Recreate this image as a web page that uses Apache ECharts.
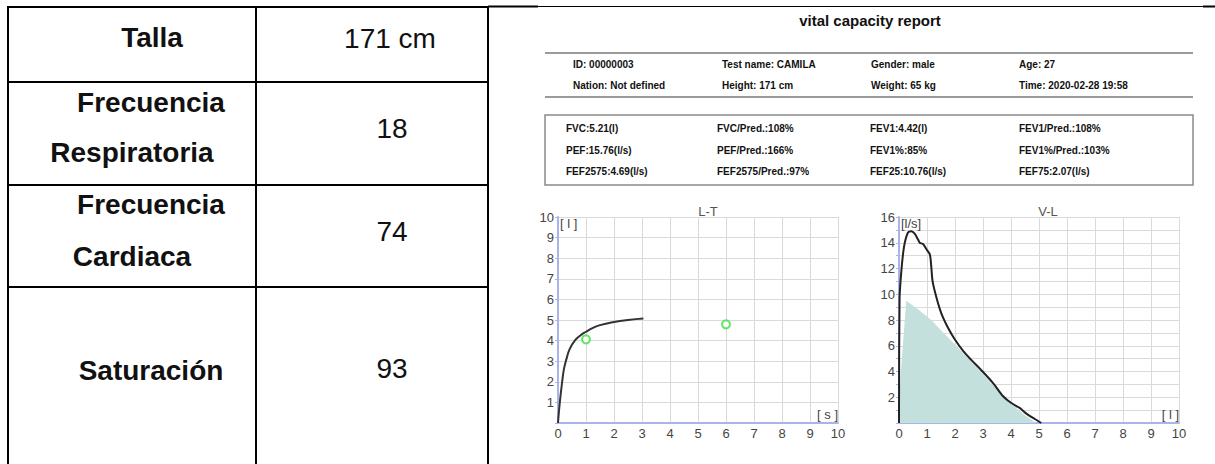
<!DOCTYPE html>
<html>
<head>
<meta charset="utf-8">
<title>vital capacity report</title>
<script src="https://cdn.jsdelivr.net/npm/echarts@6.0.0/dist/echarts.min.js"></script>
<style>
html, body { margin: 0; padding: 0; background: #fff; }
#main { width: 1215px; height: 464px; }
</style>
</head>
<body>
<div id="main"></div>
<script>
// table on the left
const rowLabels = [['Talla'], ['Frecuencia', 'Respiratoria'], ['Frecuencia', 'Cardiaca'], ['Saturación']]
const rowValues = ['171 cm', '18', '74', '93']

// report header
const reportTitle = 'vital capacity report'
const infoLine1 = ['ID: 00000003', 'Test name: CAMILA', 'Gender: male', 'Age: 27']
const infoLine2 = ['Nation: Not defined', 'Height: 171 cm', 'Weight: 65 kg', 'Time: 2020-02-28 19:58']
const results1 = ['FVC:5.21(l)', 'FVC/Pred.:108%', 'FEV1:4.42(l)', 'FEV1/Pred.:108%']
const results2 = ['PEF:15.76(l/s)', 'PEF/Pred.:166%', 'FEV1%:85%', 'FEV1%/Pred.:103%']
const results3 = ['FEF2575:4.69(l/s)', 'FEF2575/Pred.:97%', 'FEF25:10.76(l/s)', 'FEF75:2.07(l/s)']

// L-T chart (volume over time)
const ltTime   = [0, 0.03, 0.08, 0.14, 0.21, 0.3, 0.42, 0.6, 0.8, 1.0, 1.25, 1.5, 2.0, 2.5, 3.05]
const ltVolume = [0, 0.5, 1.2, 1.9, 2.6, 3.1, 3.6, 4.0, 4.25, 4.43, 4.62, 4.75, 4.9, 5.0, 5.07]
const ltMarkTime   = [1, 6]
const ltMarkVolume = [4.06, 4.79]

// V-L chart (flow over volume)
const vlVolume = [0, 0.02, 0.08, 0.18, 0.32, 0.44, 0.56, 0.68, 0.74, 0.86, 0.98, 1.1, 1.15, 1.2, 1.33, 1.45, 1.57, 1.75, 1.99, 2.29, 2.58, 2.94, 3.36, 3.71, 4.01, 4.31, 4.55, 4.85, 5.08]
const vlFlow   = [0, 9.6, 11.7, 13.7, 14.8, 14.9, 14.7, 14.25, 14.0, 13.9, 13.5, 13.1, 12.2, 11.0, 9.8, 8.9, 8.2, 7.4, 6.5, 5.6, 4.9, 4.1, 3.1, 2.1, 1.55, 1.17, 0.73, 0.31, 0]
const predVolume = [0, 0.05, 0.26, 0.7, 1.15, 1.5, 2.0, 2.5, 3.0, 3.5, 4.0, 4.5, 4.85, 4.9]
const predFlow   = [0, 3.5, 9.5, 8.8, 8.0, 7.2, 6.1, 4.95, 3.8, 2.6, 1.5, 0.6, 0.05, 0]

const pairs = (xs, ys) => xs.map((x, i) => [x, ys[i]])

// ---- layout ----
const tableX = [8, 256, 488]
const tableY = [7, 82, 185, 287]
const labelPos = [
  [[152, 37]],
  [[151, 102], [132, 152]],
  [[151, 204], [132, 256]],
  [[151, 370]]
]
const valuePos = [[390, 38], [392, 128], [392, 231], [392, 368]]
const infoX = [573, 722, 871, 1019]
const resultX = [566, 717, 870, 1019]

const graphic = []
function line(x1, y1, x2, y2, stroke, w) {
  graphic.push({ type: 'line', silent: true, shape: { x1, y1, x2, y2 }, style: { stroke, lineWidth: w } })
}
function text(x, y, str, font, align) {
  graphic.push({
    type: 'text', silent: true, x, y,
    style: { text: str, font, fill: '#111', textAlign: align || 'left', textVerticalAlign: 'middle' }
  })
}

// table grid
tableX.forEach(x => line(x, tableY[0] - 1, x, 464, '#000', 2))
tableY.forEach(y => line(tableX[0] - 1, y, tableX[2] + 1, y, '#000', 2))
rowLabels.forEach((lines, i) => {
  lines.forEach((s, j) => text(labelPos[i][j][0], labelPos[i][j][1], s, 'bold 28px "Liberation Sans", Arial, sans-serif', 'center'))
})
rowValues.forEach((s, i) => text(valuePos[i][0], valuePos[i][1], s, '28px "Liberation Sans", Arial, sans-serif', 'center'))

// top border of the report page
line(488, 6.5, 1215, 6.5, '#000', 1)
line(488, 6.5, 538, 6.5, '#000', 2)
line(1203, 6.5, 1215, 6.5, '#000', 2)

// report header
text(870, 20, reportTitle, 'bold 15px "Liberation Sans", Arial, sans-serif', 'center')
line(545, 53, 1193, 53, '#9a9a9a', 2)
line(545, 97, 1193, 97, '#9a9a9a', 2)
const infoFont = 'bold 10px "Liberation Sans", Arial, sans-serif'
infoLine1.forEach((s, i) => text(infoX[i], 64, s, infoFont))
infoLine2.forEach((s, i) => text(infoX[i], 85, s, infoFont))

graphic.push({
  type: 'rect', silent: true,
  shape: { x: 545, y: 115, width: 648, height: 70 },
  style: { fill: 'none', stroke: '#8a8a8a', lineWidth: 1.5 }
})
const resFont = 'bold 10px "Liberation Sans Narrow", "Liberation Sans", Arial, sans-serif'
;[results1, results2, results3].forEach((row, r) => {
  row.forEach((s, i) => text(resultX[i], [128, 150, 171][r], s, resFont))
})

// ---- charts ----
const axisColor = '#a9b5e8'
const labelStyle = { color: '#444', fontSize: 13, fontFamily: '"Liberation Sans", Arial, sans-serif' }

function xAxisFor(idx, unit) {
  return {
    gridIndex: idx, type: 'value', min: 0, max: 10, interval: 1,
    axisLine: { onZero: false, lineStyle: { color: axisColor, width: 2 } },
    axisTick: { show: false },
    axisLabel: { ...labelStyle, margin: 4, showMaxLabel: true, showMinLabel: true },
    splitLine: { lineStyle: { color: '#dadada', width: 1 } },
    name: unit, nameLocation: 'end', nameGap: 0,
    nameTextStyle: { ...labelStyle, align: 'right', verticalAlign: 'bottom', padding: [0, 0, 2, 0] }
  }
}
function yAxisFor(idx, max, unit, fmt) {
  return {
    gridIndex: idx, type: 'value', min: 0, max, interval: 1,
    axisLine: { show: true, onZero: false, lineStyle: { color: axisColor, width: 2 } },
    axisTick: { show: true, length: 3, lineStyle: { color: axisColor } },
    axisLabel: { ...labelStyle, margin: 4, formatter: fmt, showMaxLabel: true },
    splitLine: { lineStyle: { color: '#dadada', width: 1 } },
    name: unit, nameLocation: 'end', nameGap: 0,
    nameTextStyle: { ...labelStyle, align: 'left', verticalAlign: 'top', padding: [0, 0, 0, 2] }
  }
}

const option = {
  animation: false,
  graphic,
  title: [
    { text: 'L-T', left: 708, top: 205, textAlign: 'center', padding: 0,
      textStyle: { color: '#555', fontSize: 13, fontWeight: 'normal', fontFamily: '"Liberation Sans", Arial, sans-serif' } },
    { text: 'V-L', left: 1048, top: 205, textAlign: 'center', padding: 0,
      textStyle: { color: '#555', fontSize: 13, fontWeight: 'normal', fontFamily: '"Liberation Sans", Arial, sans-serif' } }
  ],
  grid: [
    { left: 558, top: 217, width: 280, height: 206 },
    { left: 899, top: 217, width: 280, height: 206 }
  ],
  xAxis: [xAxisFor(0, '[ s ]'), xAxisFor(1, '[ l ]')],
  yAxis: [
    yAxisFor(0, 10, '[ l ]', v => (v === 0 ? '' : v)),
    yAxisFor(1, 16, '[l/s]', v => (v > 0 && v % 2 === 0 ? v : ''))
  ],
  series: [
    {
      type: 'line', xAxisIndex: 0, yAxisIndex: 0,
      data: pairs(ltTime, ltVolume), smooth: true, showSymbol: false,
      lineStyle: { color: '#333', width: 2 }
    },
    {
      type: 'scatter', xAxisIndex: 0, yAxisIndex: 0,
      data: pairs(ltMarkTime, ltMarkVolume), symbol: 'emptyCircle', symbolSize: 8,
      itemStyle: { color: '#3ee03e', borderWidth: 2 }
    },
    {
      type: 'line', xAxisIndex: 1, yAxisIndex: 1,
      data: pairs(predVolume, predFlow), showSymbol: false,
      lineStyle: { width: 0 }, areaStyle: { color: '#c3e0dd', opacity: 1 }
    },
    {
      type: 'line', xAxisIndex: 1, yAxisIndex: 1,
      data: pairs(vlVolume, vlFlow), smooth: 0.3, showSymbol: false,
      lineStyle: { color: '#222', width: 2 }
    }
  ]
}

const chart = echarts.init(document.getElementById('main'), null, { renderer: 'svg' })
chart.setOption(option)
window.addEventListener('resize', () => chart.resize())
</script>
</body>
</html>
